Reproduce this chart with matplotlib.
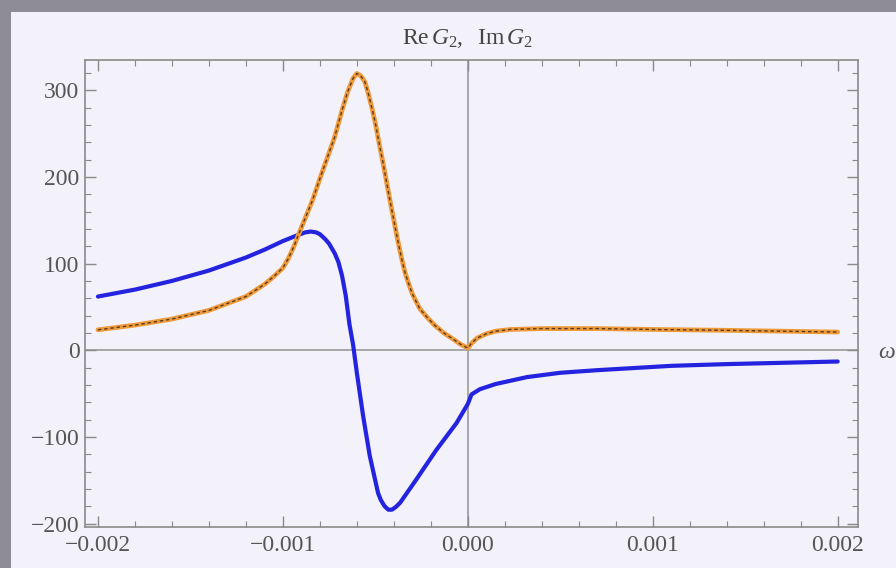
import matplotlib
matplotlib.use("Agg")
import matplotlib.pyplot as plt
from matplotlib.patches import Rectangle
from matplotlib.ticker import MultipleLocator, FixedLocator

# ── data ─────────────────────────────────────────────────────────────────────
im_x = [-0.0020, -0.0018, -0.0016, -0.0014, -0.0012, -0.0011, -0.00105,
        -0.0010, -0.00097, -0.00094, -0.00092, -0.00088, -0.00084, -0.0008,
        -0.00076, -0.00072, -0.00068, -0.00065, -0.00062, -0.0006, -0.00058,
        -0.000557, -0.00054, -0.00052, -0.0005, -0.000476, -0.00046, -0.00044,
        -0.00042, -0.0004, -0.00038, -0.00036, -0.00034, -0.00032, -0.0003,
        -0.00026, -0.00022, -0.00018, -0.00013, -0.00008, -0.00004, 0.0,
        0.00002, 0.00005, 0.0001, 0.00015, 0.00023, 0.0004, 0.0007, 0.0010,
        0.0014, 0.0017, 0.0020]
im_y = [23.6, 29, 36, 46, 62, 76, 85,
        95, 106, 120, 131, 152, 173, 198,
        222, 246, 277, 298, 314, 319.5, 317,
        310, 298, 281, 262, 235, 218, 195,
        172, 150, 128, 108, 90, 77, 65,
        48, 38, 29, 20, 13, 7, 2.5,
        8, 14, 19, 22, 24, 25, 25, 24,
        23, 22, 21]

re_x = [-0.0020, -0.0018, -0.0016, -0.0014, -0.0012, -0.0011, -0.0010,
        -0.00093, -0.00088, -0.00085, -0.00082, -0.0008, -0.00077, -0.00075,
        -0.00072, -0.0007, -0.00068, -0.00066, -0.00064, -0.00062, -0.0006,
        -0.000566, -0.00053, -0.000485, -0.00047, -0.00045, -0.00043, -0.00041,
        -0.00039, -0.000366, -0.000278, -0.00017, -0.000061, 0.0, 0.00002,
        0.000065, 0.00015, 0.00032, 0.0005, 0.0007, 0.00086, 0.0011, 0.0014,
        0.0017, 0.0020]
re_y = [62, 70, 80, 92, 107, 116, 126,
        132, 136, 137, 136, 134, 128, 123,
        112, 102, 86, 63, 30, 6, -26,
        -76, -122, -165, -173, -180, -184, -184,
        -181, -176, -149, -115, -84, -62, -51,
        -45, -39, -31, -26, -23, -21, -18, -16,
        -14.5, -13]

x_ticks = [-0.002, -0.001, 0.0, 0.001, 0.002]
x_labels = ["\u22120.002", "\u22120.001", "0.000", "0.001", "0.002"]
y_ticks = [-200, -100, 0, 100, 200, 300]
y_labels = ["\u2212200", "\u2212100", "0", "100", "200", "300"]

BG = "#f3f1f9"
GREY = "#8d8c97"
FRAME = "#8a8a8a"

plt.rcParams["font.family"] = ["Liberation Serif", "DejaVu Serif"]
plt.rcParams["mathtext.fontset"] = "custom"
plt.rcParams["mathtext.rm"] = "Liberation Serif"
plt.rcParams["mathtext.it"] = "Liberation Serif:italic"

fig = plt.figure(figsize=(8.96, 5.68), dpi=100)
fig.patch.set_facecolor(BG)
# grey photo border on the left and top
fig.patches.append(Rectangle((0, 0), 11 / 896, 1, transform=fig.transFigure,
                             facecolor=GREY, edgecolor="none", zorder=0))
fig.patches.append(Rectangle((0, 1 - 12 / 568), 1, 12 / 568, transform=fig.transFigure,
                             facecolor=GREY, edgecolor="none", zorder=0))

ax = fig.add_axes([85 / 896, 1 - 527 / 568, 773 / 896, 467 / 568])
ax.set_facecolor(BG)

ax.axhline(0, color="#9a9a9a", lw=1.2, zorder=1)
ax.axvline(0, color="#9a9a9a", lw=1.2, zorder=1)

ax.plot(re_x, re_y, color="#2323e0", lw=3.0, solid_joinstyle="round",
        solid_capstyle="round", zorder=3)
ax.plot(im_x, im_y, color="#ee9a3a", lw=3.4, solid_joinstyle="round",
        solid_capstyle="round", zorder=4)
ax.plot(im_x, im_y, color="#5a3a20", lw=1.0, dashes=(2.5, 2.0), zorder=5)

ax.set_xlim(-0.00207, 0.00211)
ax.set_ylim(-204, 335)

ax.xaxis.set_major_locator(FixedLocator(x_ticks))
ax.set_xticklabels(x_labels)
ax.xaxis.set_minor_locator(MultipleLocator(0.0002))
ax.yaxis.set_major_locator(FixedLocator(y_ticks))
ax.set_yticklabels(y_labels)
ax.yaxis.set_minor_locator(MultipleLocator(20))

ax.tick_params(which="both", direction="in", top=True, right=True,
               color=FRAME, labelcolor="#555555", labelsize=17)
ax.tick_params(which="major", length=8, width=1)
ax.tick_params(which="minor", length=4, width=0.8)
ax.tick_params(axis="x", pad=6)
ax.tick_params(axis="y", pad=4)
for sp in ax.spines.values():
    sp.set_edgecolor(FRAME)
    sp.set_linewidth(1.2)

fig.text(468 / 896, 1 - 39 / 568, r"$\mathrm{Re}\,G_2,\ \ \mathrm{Im}\,G_2$",
         ha="center", va="center", fontsize=17, color="#444444")
fig.text(878 / 896, 1 - 352 / 568, r"$\omega$", ha="left", va="center",
         fontsize=17, color="#555555")

fig.savefig("out.png", dpi=100, facecolor=fig.get_facecolor())
